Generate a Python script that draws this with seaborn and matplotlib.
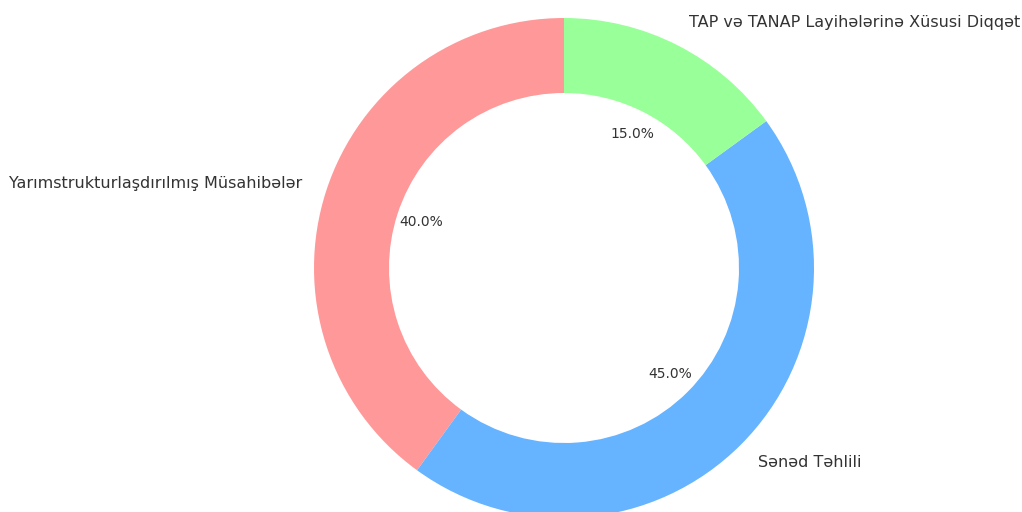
import matplotlib
matplotlib.use("Agg")
import matplotlib.pyplot as plt
import seaborn as sns

# Research methods breakdown
categories = [
    "Yarımstrukturlaşdırılmış Müsahibələr",
    "Sənəd Təhlili",
    "TAP və TANAP Layihələrinə Xüsusi Diqqət",
]
shares = [40, 45, 15]
colors = ["#ff9999", "#66b3ff", "#99ff99"]

sns.set_theme(style="white")
plt.rcParams["font.family"] = ["DejaVu Sans"]

W, H, DPI = 1022, 512, 100
fig = plt.figure(figsize=(W / DPI, H / DPI), dpi=DPI)

# square axes: radius 1 -> 250 px, centred at (564, 268) from top-left
R = 250
half = 1.25
side = 2 * half * R
cx, cy = 564, H - 268
ax = fig.add_axes([(cx - side / 2) / W, (cy - side / 2) / H, side / W, side / H])

wedges, texts, autotexts = ax.pie(
    shares,
    labels=categories,
    colors=colors,
    autopct="%1.1f%%",
    startangle=90,
    pctdistance=0.6,
    labeldistance=1.1,
    wedgeprops=dict(width=0.3, edgecolor="none"),
    textprops=dict(color="#333333"),
)
for t in texts:
    t.set_fontsize(11.5)
for t in autotexts:
    t.set_fontsize(10)

ax.set_xlim(-half, half)
ax.set_ylim(-half, half)
ax.set_aspect("equal")
ax.axis("off")

fig.savefig("out.png", dpi=DPI)
